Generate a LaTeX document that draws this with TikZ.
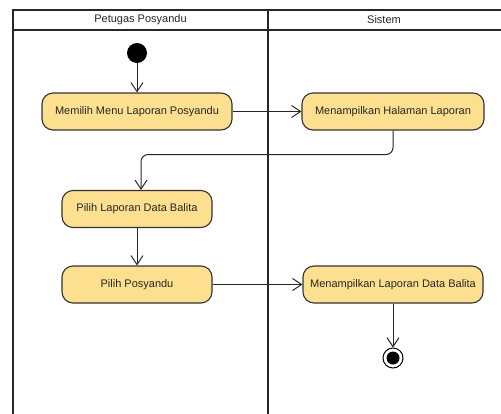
\documentclass[tikz,border=0pt]{standalone}
\usepackage{fontspec}
\setmainfont{Liberation Sans}
\usetikzlibrary{arrows.meta,positioning}
\definecolor{actfill}{HTML}{FCE08F}
\definecolor{actline}{HTML}{333333}
\begin{document}
\begin{tikzpicture}[x=1pt,y=-1pt,
  lane/.style={line width=1.8pt,draw=black!85},
  action/.style={draw=actline,line width=1.1pt,fill=actfill,rounded corners=11pt,
    minimum height=37pt,inner sep=0pt,font=\fontsize{11}{13}\selectfont,text=black!85},
  flow/.style={line width=1pt,draw=black!85,-{Straight Barb[length=9pt,width=12pt,line width=1pt]}},
  lbl/.style={font=\fontsize{11}{13}\selectfont,text=black!85}
]
\useasboundingbox (0,0) rectangle (501,413);
\fill[white] (0,0) rectangle (501,413);

% swimlane frame
\draw[lane] (13,425) -- (13,10) -- (510,10);
\draw[lane] (13,30) -- (510,30);
\draw[lane] (268,10) -- (268,425);
\node[lbl] (laneA) at (140.5,20) {Petugas Posyandu};
\node[lbl] (laneB) at (384,20) {Sistem};

% start and end
\node[circle,fill=black,minimum size=20pt,inner sep=0pt] (start) at (137,53) {};
\node[circle,draw=black,line width=1pt,fill=white,minimum size=20pt,inner sep=0pt] (stop) at (393,358) {};
\node[circle,fill=black,minimum size=13pt,inner sep=0pt] (stopdot) at (stop.center) {};

% actions
\node[action,minimum width=190pt] (a1) at (137,111.5) {Memilih Menu Laporan Posyandu};
\node[action,minimum width=182pt] (a2) at (393,111.5) {Menampilkan Halaman Laporan};
\node[action,minimum width=150pt] (a3) at (137,209) {Pilih Laporan Data Balita};
\node[action,minimum width=150pt] (a4) at (137,284.5) {Pilih Posyandu};
\node[action,minimum width=180pt] (a5) at (393,284.5) {Menampilkan Laporan Data Balita};

% transitions
\draw[flow] (start) -- (a1);
\draw[flow] (a1) -- (a2);
\draw[flow,rounded corners=7pt] (a2.south) -- ++(0,24) -| ([xshift=4pt]a3.north);
\draw[flow] (a3) -- (a4);
\draw[flow] (a4) -- (a5);
\draw[flow] (a5) -- (stop);
\end{tikzpicture}
\end{document}
